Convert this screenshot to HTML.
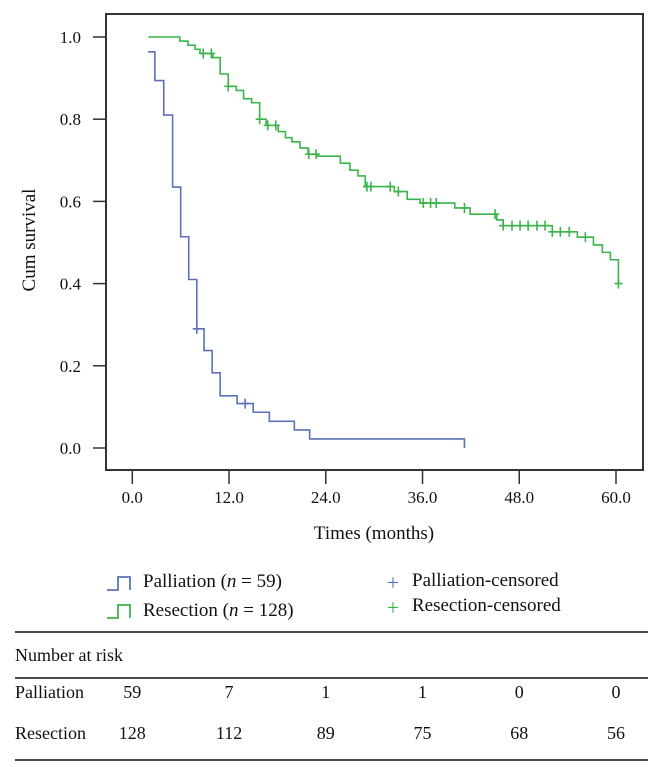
<!DOCTYPE html>
<html><head><meta charset="utf-8"><style>
body{margin:0;background:#fff;}
svg{display:block;font-family:"Liberation Serif",serif;}
</style></head><body>
<svg id="chart" width="658" height="767" viewBox="0 0 658 767">
<rect x="106" y="14" width="537" height="456" fill="none" stroke="#333" stroke-width="2"/>
<g id="axes"></g>
<g id="series"></g>
<text x="35" y="240" font-size="19" text-anchor="middle" transform="rotate(-90 35 240)" fill="#111">Cum survival</text>
<text x="374" y="539" font-size="19" text-anchor="middle" fill="#111">Times (months)</text>
<g>
<path d="M107,590 H118 V577 H130 V590" fill="none" stroke="#5b72b8" stroke-width="1.8"/>
<text x="143" y="587" font-size="19" fill="#111">Palliation (<tspan font-style="italic">n</tspan> = 59)</text>
<path d="M107,618 H118 V605 H130 V618" fill="none" stroke="#3cb44b" stroke-width="1.8"/>
<text x="143" y="616" font-size="19" fill="#111">Resection (<tspan font-style="italic">n</tspan> = 128)</text>
<text x="393" y="590" font-size="22" fill="#5b72b8" text-anchor="middle">+</text>
<text x="412" y="586" font-size="19" fill="#111">Palliation-censored</text>
<text x="393" y="615" font-size="22" fill="#3cb44b" text-anchor="middle">+</text>
<text x="412" y="611" font-size="19" fill="#111">Resection-censored</text>
</g>
<g>
<line x1="15" y1="632" x2="648" y2="632" stroke="#111" stroke-width="1.5"/>
<line x1="15" y1="678" x2="648" y2="678" stroke="#111" stroke-width="1.5"/>
<line x1="15" y1="760" x2="648" y2="760" stroke="#111" stroke-width="1.5"/>
<text x="15" y="661" font-size="18" fill="#111">Number at risk</text>
<text x="15" y="698" font-size="18" fill="#111">Palliation</text>
<text x="15" y="739" font-size="18" fill="#111">Resection</text>
<g id="riskvals"></g>
</g>
</svg>
<script>
const xTicks=[0,12,24,36,48,60];
const yTicks=[0,0.2,0.4,0.6,0.8,1.0];
const pallT=[1.95,2.8,3.9,5.0,6.0,7.0,8.0,8.9,9.9,10.9,13.0,15.0,17.0,20.1,22.0,41.2];
const pallS=[0.964,0.894,0.81,0.635,0.514,0.41,0.29,0.237,0.183,0.127,0.108,0.087,0.065,0.044,0.022,0.0];
const pallCens=[8.0,14.0];
const resT=[2.0,5.9,6.9,7.8,8.4,10.0,10.9,11.9,12.9,13.8,14.8,15.8,16.6,18.1,19.0,19.8,20.8,21.8,23.0,25.8,27.0,28.0,28.9,32.5,34.1,35.7,40.0,41.9,45.2,46.0,52.1,55.2,57.2,58.3,59.3,60.3];
const resS=[1.0,0.99,0.98,0.97,0.96,0.95,0.91,0.88,0.87,0.85,0.84,0.80,0.785,0.77,0.755,0.745,0.73,0.715,0.71,0.693,0.676,0.662,0.636,0.624,0.605,0.596,0.584,0.569,0.555,0.541,0.526,0.513,0.494,0.476,0.458,0.40];
const resCens=[8.8,9.8,11.9,15.8,16.8,17.8,21.9,22.8,29.1,29.6,32.0,33.0,36.1,37.0,37.7,41.2,45.0,46.0,47.1,48.1,49.1,50.2,51.2,52.1,53.1,54.2,56.2,60.3];
const riskPall=[59,7,1,1,0,0];
const riskRes=[128,112,89,75,68,56];

const NS="http://www.w3.org/2000/svg";
const X=m=>132.3+m*(616-132.3)/60;
const Y=v=>448-v*411;
function mk(tag,attrs,parent){const e=document.createElementNS(NS,tag);for(const k in attrs)e.setAttribute(k,attrs[k]);parent.appendChild(e);return e;}
const axes=document.getElementById('axes');
xTicks.forEach(t=>{
  const l=mk('line',{x1:X(t),x2:X(t),y1:470,y2:484,stroke:'#333','stroke-width':1.5},axes);
  
  
  const tx=mk('text',{x:X(t),y:503,'font-size':17,'text-anchor':'middle',fill:'#111'},axes);
  tx.textContent=t.toFixed(1);
  
  
});
yTicks.forEach(t=>{
  const l=mk('line',{x1:93,x2:106,y1:Y(t),y2:Y(t),stroke:'#333','stroke-width':1.5},axes);
  
  
  const tx=mk('text',{x:81,y:Y(t)+6,'font-size':17,'text-anchor':'end',fill:'#111'},axes);
  tx.textContent=t.toFixed(1);
  
  
});
const ser=document.getElementById('series');
function stepVal(T,S,m){let v=S[0];for(let i=0;i<T.length;i++){if(T[i]<=m+1e-9)v=S[i];}return v;}
function drawKM(T,S,C,color,name){
  let d='M'+X(T[0])+','+Y(S[0]);
  for(let i=1;i<T.length;i++){d+=' H'+X(T[i])+' V'+Y(S[i]);}
  const p=mk('path',{d:d,fill:'none',stroke:color,'stroke-width':1.6},ser);
  
  
  C.forEach(c=>{
    const x=X(c),y=Y(stepVal(T,S,c));
    const g=mk('path',{d:`M${x-4},${y} H${x+4} M${x},${y-5} V${y+5}`,stroke:color,'stroke-width':1.6},ser);
    
    
  });
}
drawKM(pallT,pallS,pallCens,'#5b72b8','palliation');
drawKM(resT,resS,resCens,'#3cb44b','resection');
const rv=document.getElementById('riskvals');
xTicks.forEach((t,i)=>{
  const a=mk('text',{x:X(t),y:698,'font-size':18,'text-anchor':'middle',fill:'#111'},rv);
  a.textContent=riskPall[i];
  
  
  const b=mk('text',{x:X(t),y:739,'font-size':18,'text-anchor':'middle',fill:'#111'},rv);
  b.textContent=riskRes[i];
  
  
});
</script>
</body></html>
